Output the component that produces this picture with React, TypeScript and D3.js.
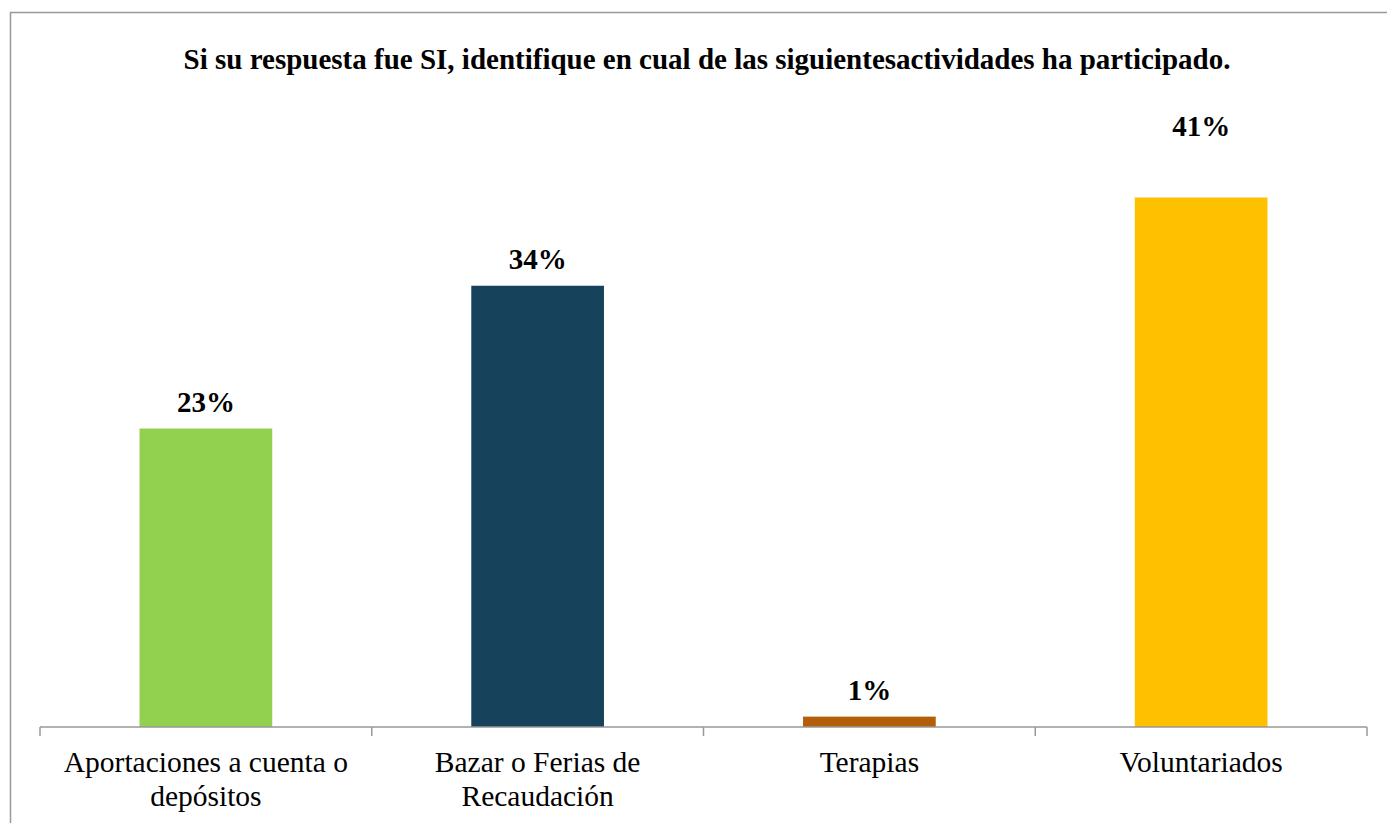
import { useEffect, useRef } from "react";
import * as d3 from "d3";

const TITLE =
  "Si su respuesta fue SI, identifique en cual de las siguientesactividades ha participado.";

// categories (each label split into its printed lines)
const categories = [
  "Aportaciones a cuenta o depósitos",
  "Bazar o Ferias de Recaudación",
  "Terapias",
  "Voluntariados",
];
const categoryLines = [
  ["Aportaciones a cuenta o", "depósitos"],
  ["Bazar o Ferias de", "Recaudación"],
  ["Terapias"],
  ["Voluntariados"],
];
const values = [0.23, 0.34, 0.008, 0.408];
const barColors = ["#92D050", "#17425B", "#B35F0A", "#FFC000"];

// the 41% label sits higher in the original
const labelLift = [0, 0, 0, 45];

export default function App() {
  const ref = useRef<SVGSVGElement>(null);

  useEffect(() => {
    if (!ref.current) return;
    const svg = d3.select(ref.current);
    svg.selectAll("*").remove();

    const W = 1387;
    const H = 823;
    const font = "Liberation Serif, Times New Roman, DejaVu Serif, serif";

    // outer frame (right and bottom edges run off the picture)
    svg
      .append("rect")
      .attr("x", 10.5)
      .attr("y", 12.5)
      .attr("width", W + 20)
      .attr("height", H + 20)
      .attr("fill", "#fff")
      .attr("stroke", "#999")
      .attr("stroke-width", 1.5);

    svg
      .append("text")
      .attr("x", 707)
      .attr("y", 69)
      .attr("text-anchor", "middle")
      .style("font-family", font)
      .attr("font-weight", "bold")
      .attr("font-size", 29)
      .text(TITLE);

    const x = d3
      .scaleBand<string>()
      .domain(categories)
      .range([40, 1367])
      .paddingInner(0.6)
      .paddingOuter(0.3);

    const y = d3.scaleLinear().domain([0, 0.45]).range([727, 143]);

    const g = svg.append("g");

    g.selectAll("rect.bar")
      .data(values)
      .join("rect")
      .attr("class", "bar")
      .attr("x", (_, i) => x(categories[i])!)
      .attr("width", x.bandwidth())
      .attr("y", (d) => y(d))
      .attr("height", (d) => y(0) - y(d))
      .attr("fill", (_, i) => barColors[i]);

    g.selectAll("text.val")
      .data(values)
      .join("text")
      .attr("class", "val")
      .attr("x", (_, i) => x(categories[i])! + x.bandwidth() / 2)
      .attr("y", (d, i) => y(d) - 17 - labelLift[i])
      .attr("text-anchor", "middle")
      .style("font-family", font)
      .attr("font-weight", "bold")
      .attr("font-size", 29)
      .text((d) => `${Math.round(d * 100)}%`);

    // category axis
    const step = x.step();
    const axis = svg.append("g").attr("stroke", "#999").attr("stroke-width", 1.5);
    axis
      .append("line")
      .attr("x1", 40)
      .attr("x2", 1367)
      .attr("y1", y(0))
      .attr("y2", y(0));
    const tickXs = d3.range(categories.length + 1).map((i) => 40 + i * step);
    axis
      .selectAll("line.tick")
      .data(tickXs)
      .join("line")
      .attr("class", "tick")
      .attr("x1", (d) => d)
      .attr("x2", (d) => d)
      .attr("y1", y(0))
      .attr("y2", y(0) + 9);

    const labels = svg
      .selectAll("text.cat")
      .data(categoryLines)
      .join("text")
      .attr("class", "cat")
      .attr("x", (_, i) => x(categories[i])! + x.bandwidth() / 2)
      .attr("y", 772)
      .attr("text-anchor", "middle")
      .style("font-family", font)
      .attr("font-size", 29.5)
      .attr("fill", "#000");
    labels
      .selectAll("tspan")
      .data((d, i) => d.map((line) => ({ line, i })))
      .join("tspan")
      .attr("x", (d) => x(categories[d.i])! + x.bandwidth() / 2)
      .attr("dy", (_, j) => (j === 0 ? 0 : 34))
      .text((d) => d.line);
  }, []);

  return (
    <svg
      ref={ref}
      width={1387}
      height={823}
      style={{ position: "absolute", left: 0, top: 0, display: "block" }}
    />
  );
}
